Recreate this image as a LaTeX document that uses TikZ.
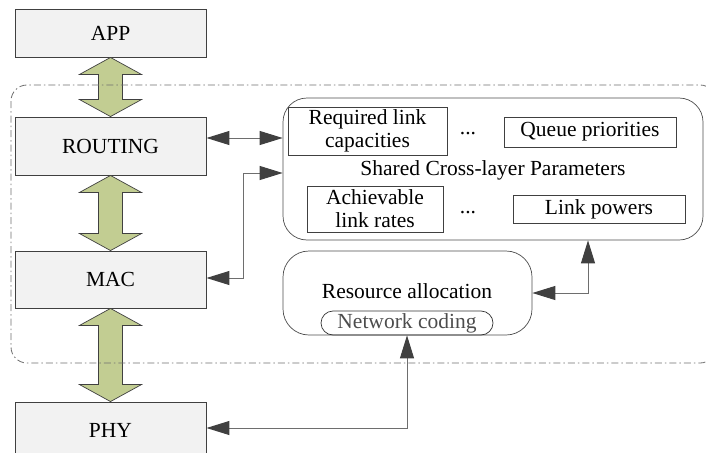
\documentclass[tikz,border=0pt]{standalone}
\usepackage{fontspec}
\setmainfont{Liberation Serif}
\usetikzlibrary{calc,positioning,arrows.meta}

\definecolor{layerfill}{RGB}{242,242,242}
\definecolor{layerline}{RGB}{64,64,64}
\definecolor{fatgreen}{RGB}{194,205,146}
\definecolor{wiregray}{RGB}{110,110,110}
\definecolor{tipgray}{RGB}{64,64,64}

\newcommand\fatlink[2]{%
  \draw[fatarrow] (#1.south) -- ++(31,17) -- ++(-19,0) -- ($(#2.north)+(12,-17)$) -- ++(19,0)
    -- (#2.north) -- ++(-31,-17) -- ++(19,0) -- ($(#1.south)+(-12,17)$) -- ++(-19,0) -- cycle;}

\begin{document}
\begin{tikzpicture}[x=1pt,y=-1pt,
    font=\fontsize{21.5}{24}\selectfont,
    layer/.style={draw=layerline, fill=layerfill, line width=0.9pt, minimum width=191pt, inner sep=0pt},
    fatarrow/.style={draw=layerline, fill=fatgreen, line width=0.7pt},
    parambox/.style={draw=black!75, line width=0.7pt, inner sep=0pt, align=center},
    roundbox/.style={draw=black!70, line width=0.7pt, rounded corners=24pt, inner sep=0pt},
    wire/.style={draw=wiregray, line width=1pt, {Triangle[length=23pt,width=14pt,fill=tipgray,color=tipgray]}-{Triangle[length=23pt,width=14pt,fill=tipgray,color=tipgray]}}
  ]
  \clip (0,0) rectangle (706,452);

  \node[layer, minimum height=48pt] at (110.5,33) (app) {APP};
  \node[layer, minimum height=58pt] at (110.5,146) (routing) {ROUTING};
  \node[layer, minimum height=57pt] at (110.5,279.5) (mac) {MAC};
  \node[layer, minimum height=56pt] at (110.5,430) (phy) {PHY};

  \fatlink{app}{routing}
  \fatlink{routing}{mac}
  \fatlink{mac}{phy}

  \draw[wiregray, line width=0.8pt, dash pattern=on 7pt off 3pt on 1.5pt off 3pt, rounded corners=16pt]
    (11,85) rectangle (716,363);

  \node[roundbox, minimum width=420pt, minimum height=142pt] at (493,169) (shared) {};
  \node at (493,170) (sharedtxt) {Shared Cross-layer Parameters};
  \node[parambox, minimum width=159pt, minimum height=48pt] at (367.5,131) (capac) {Required link\\[-1pt]capacities};
  \node at (468,134) (dots1) {...};
  \node[parambox, minimum width=172pt, minimum height=30pt] at (590,132) (queue) {Queue priorities};
  \node[parambox, minimum width=136pt, minimum height=46pt] at (375,209) (rates) {Achievable\\[-1pt]link rates};
  \node at (468,213) (dots2) {...};
  \node[parambox, minimum width=172pt, minimum height=28pt] at (599,209) (powers) {Link powers};

  \node[roundbox, rounded corners=26pt, minimum width=249pt, minimum height=84pt] at (407.5,293) (resource) {};
  \node at (407,291) (restxt) {Resource allocation};
  \node[draw=black!80, line width=0.7pt, rounded corners=12pt, minimum width=172pt, minimum height=24pt, inner sep=0pt, text=black!70] at (407,323) (coding) {Network coding};

  \draw[wire] (routing.east |- 0,138) -- (shared.west |- 0,138);
  \draw[wire] (mac.east |- 0,278) -| (243,173) -- (shared.west |- 0,173);
  \draw[wire] (resource.east |- 0,293) -| (shared.south -| 588,0);
  \draw[wire] (phy.east |- 0,428) -| (coding.south);
\end{tikzpicture}
\end{document}
